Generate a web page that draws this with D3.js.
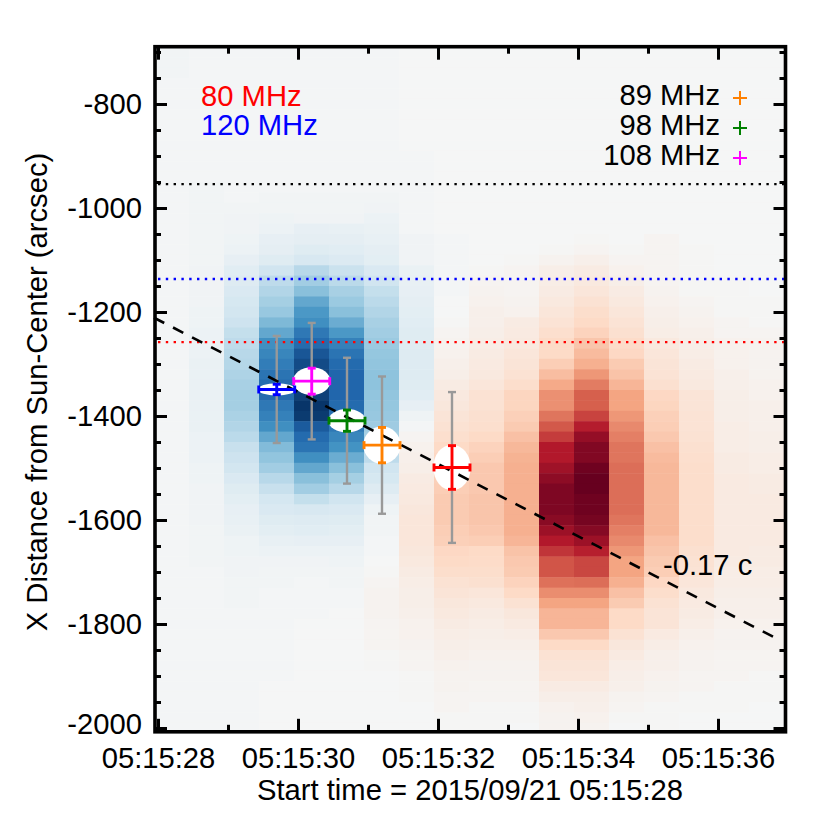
<!DOCTYPE html>
<html>
<head>
<meta charset="utf-8">
<script src="https://cdn.jsdelivr.net/npm/d3@7"></script>
<style>
html, body { margin: 0; padding: 0; background: #fff; }
svg { display: block; }
text { font-family: "Liberation Sans", Arial, sans-serif; fill: #000; }
</style>
</head>
<body>
<svg width="830" height="830"></svg>
<script>
// intensity difference per time column, top row (-700) to bottom row (-2000), hundredths
var col00 = [-2,-2,-2,-1,-1,-1,-1,-1,-1,-1,-1,
  -1,-1,-1,-1,-1,-1,-1,-1,-1,-1,-1,
  -1,-1,-1,-1,-1,-1,-1,-1,-1,-1,-1,
  -1,-1,-1,-1,-1,-1,-1,-1,-1,-1,-1,
  -1,-1,-1,-1,-1,-1,-1,-1,-1,-1,-1,
  -1,-1,-1,-1,-1,-1,-1,-1,-1,-1,-1];
var col01 = [-1,-1,-1,-1,-1,-1,-1,-1,-1,-1,-1,
  -1,-1,-2,-2,-2,-2,-2,-2,-2,-2,-3,
  -3,-3,-3,-4,-4,-5,-5,-5,-6,-6,-6,
  -6,-6,-6,-6,-5,-5,-5,-4,-4,-3,-3,
  -3,-3,-2,-2,-2,-2,-1,-1,-1,-1,-1,
  -1,-1,-1,-1,-1,-1,-1,-1,-1,-1,-1];
var col02 = [-1,-1,-1,-1,-1,-1,-1,-1,-1,-1,-1,
  -1,-1,-1,-1,-2,-3,-3,-4,-5,-8,-11,
  -13,-15,-17,-19,-21,-24,-26,-28,-29,-31,-33,
  -34,-34,-32,-30,-27,-23,-21,-19,-15,-12,-10,
  -8,-7,-6,-4,-4,-3,-3,-2,-2,-2,-1,
  -1,-1,-1,-1,-1,-1,-1,-1,-1,-1,-1];
var col03 = [-1,-1,-1,-1,-1,-1,-1,-1,-1,-1,-1,
  -1,-1,-1,-2,-2,-4,-5,-8,-9,-12,-20,
  -26,-30,-34,-38,-45,-52,-62,-66,-70,-74,-77,
  -78,-72,-68,-62,-52,-44,-40,-35,-28,-23,-18,
  -15,-12,-10,-7,-5,-3,-2,-2,-1,-1,-1,
  -1,-1,-1,-1,-1,-1,0,0,0,0,0];
var col04 = [-1,-1,-1,-1,-1,-1,-1,-1,-1,-1,-1,
  -1,-1,-1,-2,-2,-3,-8,-9,-12,-16,-28,
  -35,-42,-52,-58,-62,-72,-78,-86,-90,-92,-93,
  -94,-98,-96,-84,-78,-74,-62,-52,-42,-35,-24,
  -16,-13,-11,-8,-5,-3,-2,-1,-1,-1,-1,
  0,0,0,0,0,0,0,0,0,0,0];
var col05 = [-1,-1,-1,-1,-1,-1,-1,-1,-1,-1,-1,
  -1,-1,-1,-2,-2,-3,-7,-9,-11,-14,-22,
  -27,-33,-37,-42,-50,-58,-68,-74,-78,-80,-80,
  -80,-78,-76,-72,-66,-60,-50,-42,-34,-28,-20,
  -15,-12,-10,-8,-5,-4,-2,-2,-1,-1,0,
  0,0,0,0,0,0,0,0,0,0,0];
var col06 = [-1,-1,-1,-1,-1,-1,-1,-1,-1,-1,-1,
  -1,-1,-1,-2,-3,-5,-6,-7,-9,-10,-15,
  -20,-24,-27,-30,-33,-35,-37,-39,-40,-41,-41,
  -40,-39,-38,-36,-34,-30,-26,-20,-17,-13,-8,
  -4,-2,-2,-1,-1,0,1,2,3,3,3,
  2,2,2,1,1,0,0,0,0,0,0];
var col07 = [0,0,0,0,0,0,0,0,0,0,-1,
  -1,-1,-1,-1,-1,-1,-1,-3,-3,-3,-6,
  -7,-8,-9,-10,-11,-12,-12,-13,-13,-13,-12,
  -11,-8,-4,-1,2,4,5,6,8,9,10,
  11,12,12,12,11,10,8,7,6,6,5,
  4,4,3,2,2,1,1,1,0,0,0];
var col08 = [0,0,0,0,0,0,0,0,0,0,0,
  0,0,0,0,0,0,0,-1,-1,-1,-1,
  -1,-1,0,0,1,2,3,4,5,6,8,
  10,11,13,15,17,20,21,23,24,25,26,
  26,26,25,24,21,20,18,15,13,11,10,
  8,7,6,5,4,3,3,2,2,1,1];
var col09 = [0,0,0,0,0,0,0,0,0,0,0,
  0,0,0,0,0,0,0,0,0,0,1,
  2,3,4,5,5,6,7,8,9,10,12,
  15,15,16,17,20,23,25,27,27,27,28,
  28,28,27,25,20,19,18,16,12,10,8,
  7,6,5,4,3,3,2,2,1,1,1];
var col10 = [0,0,0,0,0,0,0,0,0,0,0,
  0,0,0,0,0,0,0,0,0,1,2,
  2,2,3,4,8,9,10,12,13,15,18,
  22,22,24,26,30,33,35,36,36,36,36,
  36,36,36,34,29,27,26,23,20,15,11,
  9,7,5,4,3,3,2,2,1,1,0];
var col11 = [0,0,0,0,0,0,0,0,0,0,0,
  0,0,0,0,0,0,0,0,1,3,6,
  7,8,10,12,14,17,20,20,25,31,38,
  46,46,54,62,70,80,80,85,90,94,94,
  94,91,86,80,72,63,63,55,47,40,34,
  34,27,20,15,13,12,8,6,4,3,3];
var col12 = [0,0,0,0,0,0,0,0,0,0,0,
  0,0,0,0,0,0,0,1,2,5,8,
  10,12,15,18,20,23,28,32,36,44,52,
  60,60,68,79,88,93,93,98,100,100,98,
  98,96,92,86,78,67,67,56,47,40,34,
  34,27,20,15,13,12,8,6,5,4,3];
var col13 = [0,0,0,0,0,0,0,0,0,0,0,
  0,0,0,0,0,0,0,0,1,2,4,
  6,8,10,12,14,16,19,21,26,29,34,
  40,40,44,48,51,54,54,56,56,56,56,
  56,54,51,48,44,40,40,36,30,26,20,
  20,15,11,9,7,6,5,3,2,1,0];
var col14 = [0,0,0,0,0,0,0,0,0,0,0,
  0,0,0,0,0,0,0,2,2,2,2,
  2,3,4,5,6,7,10,12,13,14,16,
  21,22,24,25,27,30,32,33,33,33,33,
  33,33,33,30,28,26,25,21,18,15,13,
  13,9,7,5,5,4,3,2,1,1,1];
var col15 = [0,0,0,0,0,0,0,0,0,0,0,
  0,0,0,0,0,0,0,0,1,1,1,
  1,1,2,3,4,5,6,7,8,9,10,
  13,13,14,14,15,16,17,18,18,18,18,
  18,18,18,18,16,15,14,12,10,9,8,
  7,5,4,3,3,2,2,1,1,0,0];
var col16 = [0,0,0,0,0,0,0,0,0,0,0,
  0,0,0,0,0,0,0,0,0,0,0,
  1,1,1,1,2,2,4,4,4,5,5,
  6,6,6,7,7,7,8,8,9,9,9,
  9,9,9,9,9,8,7,7,6,5,5,
  4,3,3,2,2,2,1,1,1,0,0];
var col17 = [0,0,0,0,0,0,0,0,0,0,0,
  0,0,0,0,0,0,0,0,0,0,0,
  0,0,1,1,1,2,3,3,3,3,4,
  4,5,5,5,6,6,7,7,8,8,9,
  9,9,9,9,8,8,7,7,6,5,5,
  4,3,3,2,2,1,1,1,0,0,0];
var columns = [col00,col01,col02,col03,col04,col05,col06,col07,col08,
  col09,col10,col11,col12,col13,col14,col15,col16,col17];

var firstColTime = 0.193, colStep = 0.5;   // seconds from start
var firstRow = -700, rowStep = -20;        // arcsec

// source centroids per frequency
var freqs =    ["80 MHz", "89 MHz", "98 MHz", "108 MHz", "120 MHz"];
var srcColor = ["#ff0000", "#ff8000", "#008000", "#ff00ff", "#0000ff"];
var srcTime =  [4.2, 3.2, 2.7, 2.196, 1.696];
var srcDist =  [-1499, -1456, -1409, -1333, -1349];
var srcErrY =  [42, 34, 20.5, 25, 10];
var srcErrT =  [0.257, 0.257, 0.257, 0.257, 0.257];
var srcSize =  [145, 132, 121, 112, 103];  // grey bars

var fitTime = [-0.057, 8.84], fitDist = [-1211, -1828];
var levelDist = [-954, -1136.5, -1258], levelColor = ["#000", "#0000ff", "#ff0000"];

var xTicks = [0, 2, 4, 6, 8];
var xLabels = ["05:15:28", "05:15:30", "05:15:32", "05:15:34", "05:15:36"];
var xMinor = [1, 3, 5, 7];
var yTicks = [-800, -1000, -1200, -1400, -1600, -1800, -2000];
var yLabels = ["-800", "-1000", "-1200", "-1400", "-1600", "-1800", "-2000"];
var yMinor = [-700, -750, -850, -900, -950, -1050, -1100, -1150, -1250, -1300, -1350, -1450, -1500,
  -1550, -1650, -1700, -1750, -1850, -1900, -1950];

var svg = d3.select("svg");
var left = 155, right = 785.5, top_ = 46.7, bottom = 731.8;
var fs = 29.2;

var x = d3.scaleLinear().domain([0, 8]).range([158, 718]);
var y = d3.scaleLinear().domain([-800, -2000]).range([104, 728]);
var color = d3.scaleLinear()
  .domain([-1, -.8, -.6, -.4, -.2, 0, .2, .4, .6, .8, 1])
  .range(["#053061", "#2166ac", "#4393c3", "#92c5de", "#d1e5f0", "#f5f6f6",
          "#fddbc7", "#f4a582", "#d6604d", "#b2182b", "#67001f"]);

svg.append("defs").append("clipPath").attr("id", "plot")
  .append("rect").attr("x", left).attr("y", top_)
  .attr("width", right - left).attr("height", bottom - top_);

// heatmap
var cells = [];
columns.forEach(function(col, i) {
  col.forEach(function(v, k) {
    cells.push({ t: firstColTime + i * colStep, d: firstRow + k * rowStep, v: v / 100 });
  });
});
svg.append("g").attr("clip-path", "url(#plot)")
  .selectAll("rect").data(cells).join("rect")
  .attr("x", function(d) { return x(d.t - colStep / 2); })
  .attr("y", function(d) { return y(d.d - rowStep / 2); })
  .attr("width", x(colStep) - x(0) + 0.5)
  .attr("height", y(rowStep) - y(0) + 0.5)
  .attr("fill", function(d) { return color(d.v); });

// dotted levels
svg.append("g").selectAll("line").data(levelDist).join("line")
  .attr("x1", left + 3).attr("x2", right)
  .attr("y1", function(d) { return y(d); })
  .attr("y2", function(d) { return y(d); })
  .attr("stroke", function(d, i) { return levelColor[i]; })
  .attr("stroke-width", 2.4)
  .attr("stroke-dasharray", "2.4 5.4");

var src = d3.range(freqs.length);

// grey size bars
var grey = svg.append("g").attr("stroke", "#999").attr("stroke-width", 2.4);
grey.selectAll(".bar").data(src).join("line").attr("class", "bar")
  .attr("x1", function(i) { return x(srcTime[i]); })
  .attr("x2", function(i) { return x(srcTime[i]); })
  .attr("y1", function(i) { return y(srcDist[i] + srcSize[i]); })
  .attr("y2", function(i) { return y(srcDist[i] - srcSize[i]); });
[1, -1].forEach(function(sign) {
  grey.selectAll(".cap" + (sign > 0 ? "u" : "d")).data(src).join("line").attr("class", "cap" + (sign > 0 ? "u" : "d"))
    .attr("x1", function(i) { return x(srcTime[i]) - 4; })
    .attr("x2", function(i) { return x(srcTime[i]) + 4; })
    .attr("y1", function(i) { return y(srcDist[i] + sign * srcSize[i]); })
    .attr("y2", function(i) { return y(srcDist[i] + sign * srcSize[i]); });
});

// white ellipses
svg.append("g").selectAll("ellipse").data(src).join("ellipse")
  .attr("cx", function(i) { return x(srcTime[i]); })
  .attr("cy", function(i) { return y(srcDist[i]); })
  .attr("rx", function(i) { return x(srcErrT[i]) - x(0) + 0.7; })
  .attr("ry", function(i) { return y(0) - y(srcErrY[i]) + 1; })
  .attr("fill", "#fff");

// fit line
svg.append("path")
  .datum(d3.zip(fitTime, fitDist))
  .attr("d", d3.line().x(function(d) { return x(d[0]); }).y(function(d) { return y(d[1]); }))
  .attr("fill", "none").attr("stroke", "#000").attr("stroke-width", 2.6)
  .attr("stroke-dasharray", "11.5 9.9");

// coloured crosses
var cross = svg.append("g").attr("stroke-width", 2.9);
src.forEach(function(i) {
  var g = cross.append("g").attr("stroke", srcColor[i]);
  var cx = x(srcTime[i]), cy = y(srcDist[i]);
  var dx = x(srcErrT[i]) - x(0), dy = y(0) - y(srcErrY[i]);
  g.append("line").attr("x1", cx - dx).attr("x2", cx + dx).attr("y1", cy).attr("y2", cy);
  g.append("line").attr("x1", cx).attr("x2", cx).attr("y1", cy - dy).attr("y2", cy + dy);
  g.append("line").attr("x1", cx - dx).attr("x2", cx - dx).attr("y1", cy - 4).attr("y2", cy + 4);
  g.append("line").attr("x1", cx + dx).attr("x2", cx + dx).attr("y1", cy - 4).attr("y2", cy + 4);
  g.append("line").attr("x1", cx - 4).attr("x2", cx + 4).attr("y1", cy - dy).attr("y2", cy - dy);
  g.append("line").attr("x1", cx - 4).attr("x2", cx + 4).attr("y1", cy + dy).attr("y2", cy + dy);
});

// axes
function styleAxis(g, w) {
  g.select(".domain").remove();
  g.selectAll("line").attr("stroke", "#000").attr("stroke-width", w);
  g.selectAll("text").attr("font-size", fs).attr("fill", "#000");
}
function addAxis(axis, tx, ty, w) {
  return svg.append("g").attr("transform", "translate(" + tx + "," + ty + ")").call(axis).call(styleAxis, w);
}
var xb = addAxis(d3.axisBottom(x).tickValues(xTicks).tickSize(-13).tickPadding(36)
  .tickFormat(function(d, i) { return xLabels[i]; }), 0, bottom, 3);
xb.selectAll("text").attr("dy", 0);
addAxis(d3.axisBottom(x).tickValues(xMinor).tickSize(-7).tickFormat(""), 0, bottom, 3);
addAxis(d3.axisTop(x).tickValues(xTicks).tickSize(-13).tickFormat(""), 0, top_, 3);
addAxis(d3.axisTop(x).tickValues(xMinor).tickSize(-7).tickFormat(""), 0, top_, 3);

var yl = addAxis(d3.axisLeft(y).tickValues(yTicks).tickSize(-12).tickPadding(13)
  .tickFormat(function(d, i) { return yLabels[i]; }), left, 0, 3);
yl.selectAll("text").filter(function(d) { return d === -2000; }).attr("dy", "0.18em");
addAxis(d3.axisLeft(y).tickValues(yMinor).tickSize(-6).tickFormat(""), left, 0, 3);
addAxis(d3.axisRight(y).tickValues(yTicks).tickSize(-12).tickFormat(""), right, 0, 3);
addAxis(d3.axisRight(y).tickValues(yMinor).tickSize(-6).tickFormat(""), right, 0, 3);

svg.append("rect").attr("x", left).attr("y", top_)
  .attr("width", right - left).attr("height", bottom - top_)
  .attr("fill", "none").attr("stroke", "#000").attr("stroke-width", 3.6);

// texts
function label(px, py, str, col, anchor) {
  return svg.append("text").attr("x", px).attr("y", py)
    .attr("font-size", fs).attr("text-anchor", anchor || "start")
    .style("fill", col || "#000").text(str);
}
label(201, 105.5, freqs[0], srcColor[0]);
label(201, 135, freqs[4], srcColor[4]);
[1, 2, 3].forEach(function(i, n) {
  var py = 105 + n * 30;
  label(720, py, freqs[i], "#000", "end");
  svg.append("path").attr("d", "M733," + (py - 7) + "h14M740," + (py - 14) + "v14")
    .attr("stroke", srcColor[i]).attr("stroke-width", 2).attr("fill", "none");
});
label(663, 575, "-0.17 c");
label(470, 800, "Start time = 2015/09/21 05:15:28", "#000", "middle");
svg.append("text").attr("transform", "translate(47,392) rotate(-90)")
  .attr("text-anchor", "middle").attr("font-size", fs)
  .text("X Distance from Sun-Center (arcsec)");
</script>
</body>
</html>
